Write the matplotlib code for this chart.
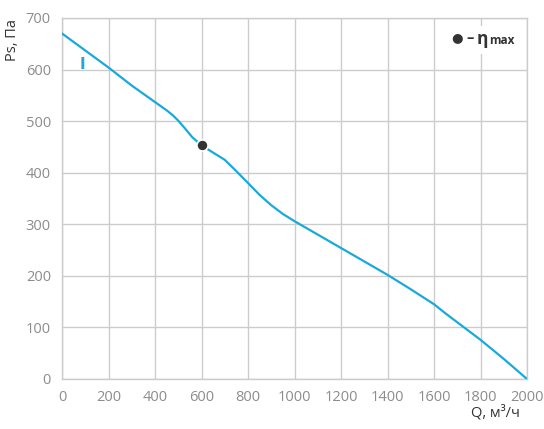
import matplotlib
matplotlib.use("Agg")
import matplotlib.pyplot as plt
from matplotlib.patches import Rectangle

plt.rcParams['font.family'] = ['Open Sans', 'DejaVu Sans']

q = [0, 100, 200, 300, 350, 400, 450, 475, 500, 525, 560, 600, 650, 700, 750,
     800, 850, 900, 950, 1000, 1100, 1200, 1300, 1400, 1500, 1600, 1650, 1700,
     1750, 1800, 1900, 2000]
ps = [670, 637, 604, 569, 553, 537, 521, 512, 501, 488, 469, 453, 439, 425, 403,
      380, 357, 337, 320, 306, 280, 254, 228, 202, 174, 145, 127, 110,
      93, 76, 39, 0]
eta_q = [600]
eta_ps = [453]
xticks = [0, 200, 400, 600, 800, 1000, 1200, 1400, 1600, 1800, 2000]
yticks = [0, 100, 200, 300, 400, 500, 600, 700]

W, H = 544, 429
fig = plt.figure(figsize=(W/100, H/100), dpi=100)
ax = fig.add_axes([62/W, 1-379/H, (527-62)/W, (379-18)/H])
ax.set_xlim(0, 2000)
ax.set_ylim(0, 700)
ax.set_xticks(xticks)
ax.set_yticks(yticks)
ax.grid(True, color='#cccccc', linewidth=1.0)
ax.set_axisbelow(True)
for s in ax.spines.values():
    s.set_color('#cccccc')
    s.set_linewidth(1.0)
ax.tick_params(length=0, labelsize=10.5, labelcolor='#8c8c8c', pad=8)

ax.plot(q, ps, color='#1ba9d8', linewidth=1.6, zorder=3,
        solid_joinstyle='round', solid_capstyle='round')
ax.plot(eta_q, eta_ps, 'o', color='#333333', markersize=8,
        markeredgecolor='white', markeredgewidth=1.2, zorder=4)

ax.text(90, 610, 'I', color='#1ba9d8', fontsize=11, fontweight='bold',
        ha='center', va='center', family=['DejaVu Sans'])

# legend
fig.patches.append(Rectangle((446/W, 1-54/H), 70/W, 28/H, transform=fig.transFigure,
                             facecolor='white', edgecolor='none', zorder=2))
fig.text(457/W, 1-38/H, '●', color='#333333', fontsize=9.5, ha='center',
         va='center', family=['DejaVu Sans'], zorder=3)
fig.text(466/W, 1-38/H, '–', color='#333333', fontsize=10.5, ha='left',
         va='center', fontweight='bold', zorder=3)
fig.text(477/W, 1-39/H, 'η', color='#333333', fontsize=12.5, ha='left',
         va='center', fontweight='bold', zorder=3)
fig.text(489/W, 1-40/H, 'max', color='#333333', fontsize=8.5, ha='left',
         va='center', fontweight='bold', zorder=3)

fig.text(12/W, 1-40/H, 'Ps, Па', rotation=90, color='#333333', fontsize=10.5,
         ha='center', va='center')
fig.text(495/W, 1-413/H, 'Q, м³/ч', color='#333333', fontsize=10.5,
         ha='center', va='center')

fig.savefig('out.png', dpi=100)
